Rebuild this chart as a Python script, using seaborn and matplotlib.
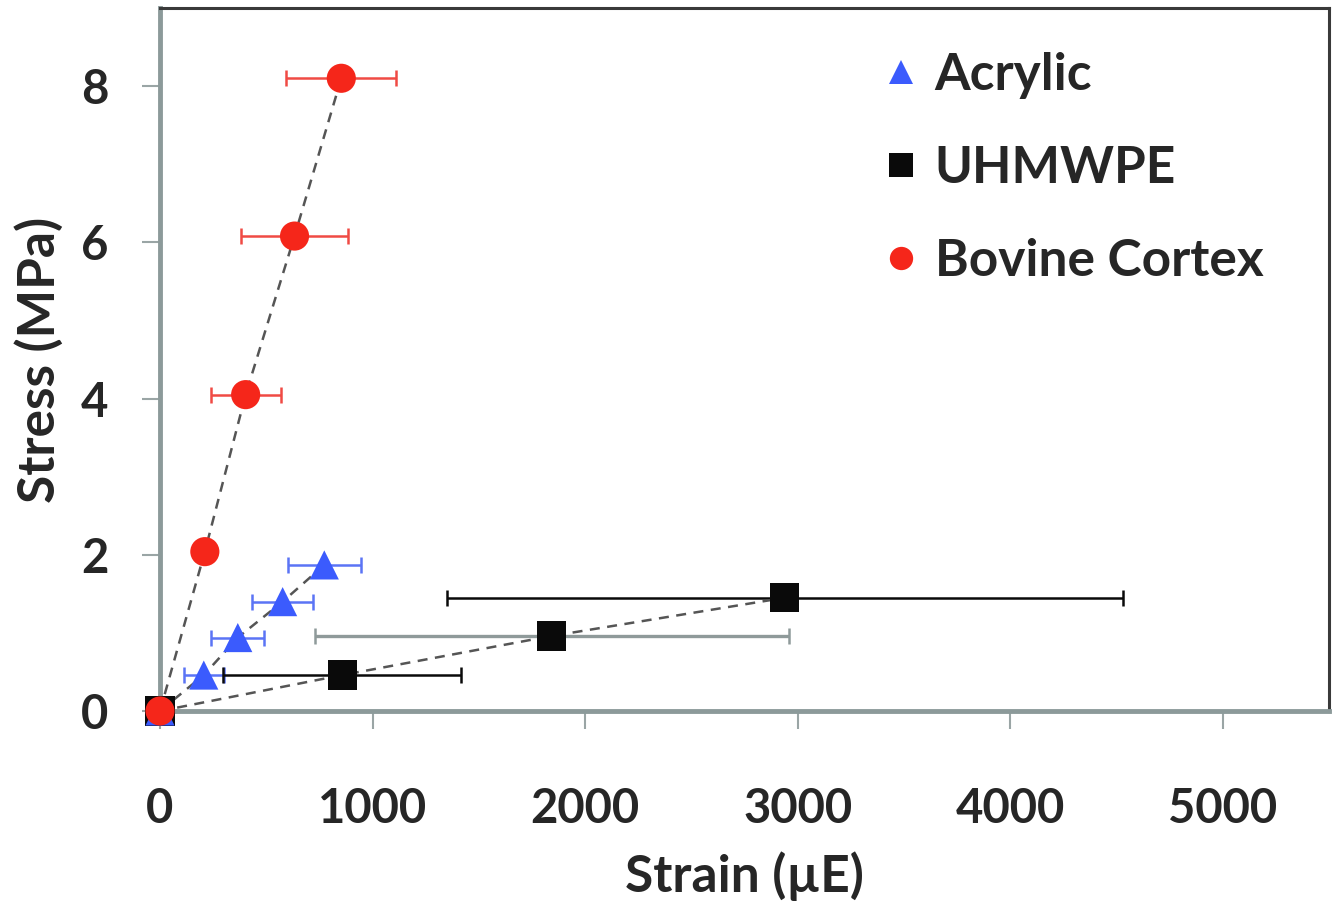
import numpy as np
import pandas as pd
import matplotlib
matplotlib.use("Agg")
import matplotlib.pyplot as plt
import seaborn as sns

# values
acrylic_strain = [0, 206, 366, 577, 773]
acrylic_stress = [0, 0.46, 0.94, 1.40, 1.87]
acrylic_err = [0, 94, 124, 145, 173]

uhmwpe_strain = [0, 858, 1842, 2940]
uhmwpe_stress = [0, 0.46, 0.96, 1.45]
uhmwpe_err = [0, 560, 1115, 1590]

bovine_strain = [0, 211, 403, 633, 853]
bovine_stress = [0, 2.04, 4.05, 6.08, 8.10]
bovine_err = [0, 0, 164, 253, 258]

x_ticks = [0, 1000, 2000, 3000, 4000, 5000]
y_ticks = [0, 2, 4, 6, 8]

blue = "#3b5bfd"
red = "#f5261a"
black = "#0a0a0a"

sns.set_theme(style="white")
plt.rcParams["font.family"] = ["Lato", "DejaVu Sans"]
plt.rcParams["font.weight"] = "bold"

df = pd.concat([
    pd.DataFrame({"strain": uhmwpe_strain, "stress": uhmwpe_stress, "err": uhmwpe_err, "mat": "UHMWPE"}),
    pd.DataFrame({"strain": acrylic_strain, "stress": acrylic_stress, "err": acrylic_err, "mat": "Acrylic"}),
    pd.DataFrame({"strain": bovine_strain, "stress": bovine_stress, "err": bovine_err, "mat": "Bovine Cortex"}),
])

fig = plt.figure(figsize=(13.4, 9.07), dpi=100)
ax = fig.add_axes([0.1194, 0.2161, 0.8724, 0.7751])

# dashed trend lines
for mat in ["Acrylic", "UHMWPE", "Bovine Cortex"]:
    d = df[df.mat == mat]
    sns.lineplot(data=d, x="strain", y="stress", sort=False, ax=ax, color="#555555",
                 linestyle=(0, (4, 3)), linewidth=1.8, zorder=2, legend=False)

# error bars
ecol = {"Acrylic": "#5b74f5", "UHMWPE": black, "Bovine Cortex": "#f04a44"}
for mat in ["Acrylic", "UHMWPE", "Bovine Cortex"]:
    d = df[(df.mat == mat) & (df.err > 0)]
    for i, (x, y, e) in enumerate(zip(d.strain, d.stress, d.err)):
        c = ecol[mat]
        if mat == "UHMWPE" and i == 1:
            c = "#8f9a9a"
        ax.errorbar(x, y, xerr=e, fmt="none", ecolor=c, elinewidth=2.4 if c == "#8f9a9a" else 1.8,
                    capsize=6, capthick=1.8, zorder=1)

# markers
sns.scatterplot(data=df, x="strain", y="stress", hue="mat", style="mat",
                hue_order=["Acrylic", "UHMWPE", "Bovine Cortex"],
                style_order=["Acrylic", "UHMWPE", "Bovine Cortex"],
                palette=[blue, black, red], markers=["^", "s", "o"],
                s=440, linewidth=0, ax=ax, zorder=3, clip_on=False)

ax.set_xlim(0, 5500)
ax.set_ylim(0, 9)
ax.set_xticks(x_ticks)
ax.set_yticks(y_ticks)
ax.tick_params(axis="both", which="major", labelsize=34, length=13, width=1.5,
               color="#9aa5a5", direction="out", bottom=True, left=True)
ax.tick_params(axis="x", pad=42)
ax.tick_params(axis="y", pad=24)
for lab in ax.get_xticklabels() + ax.get_yticklabels():
    lab.set_fontweight("bold")

for side in ["left", "bottom"]:
    ax.spines[side].set_color("#8c9a9a")
    ax.spines[side].set_linewidth(3.5)
for side in ["top", "right"]:
    ax.spines[side].set_color("#3a3a3a")
    ax.spines[side].set_linewidth(2.2)

ax.set_xlabel("Strain (\u00b5E)", fontsize=37, fontweight="bold")
ax.set_ylabel("Stress (MPa)", fontsize=37, fontweight="bold")
ax.xaxis.set_label_coords(0.5, -0.199)
ax.yaxis.set_label_coords(-0.082, 0.5)

handles, labels = ax.get_legend_handles_labels()
leg = ax.legend(handles, labels, loc="upper left", bbox_to_anchor=(0.612, 0.938),
                frameon=False, fontsize=37, labelspacing=0.9, handletextpad=0.15,
                handlelength=1.0, markerscale=0.8, borderaxespad=0, borderpad=0)
for t in leg.get_texts():
    t.set_fontweight("bold")

fig.savefig("out.png", dpi=100)
